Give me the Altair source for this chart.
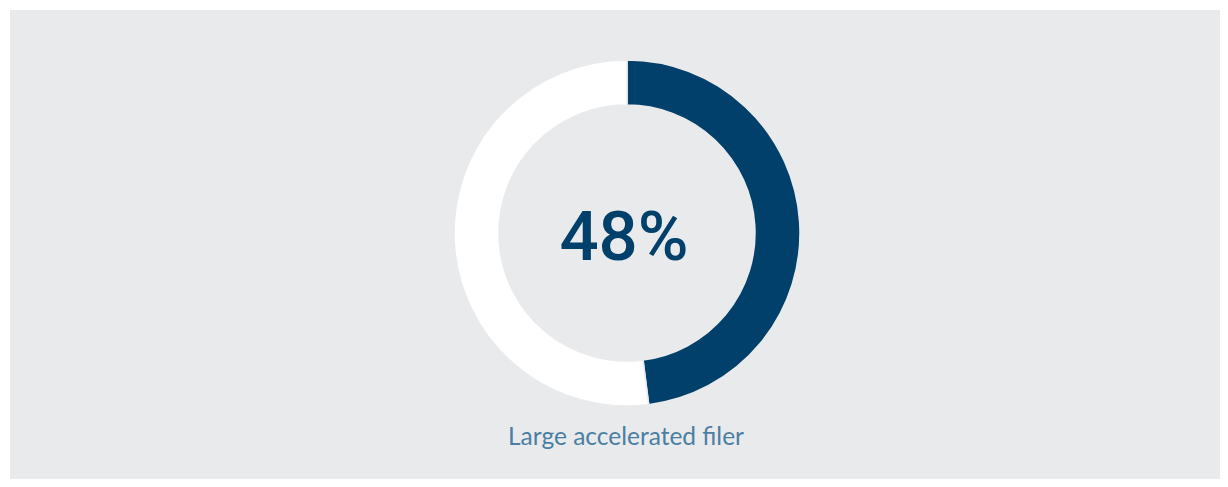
import altair as alt
import pandas as pd

categories = ["Large accelerated filer", "Other"]
shares = [48, 52]
colors = ["#00406b", "#ffffff"]
headline = "48%"
label = "Large accelerated filer"

df = pd.DataFrame({"cat": categories, "share": shares, "order": [0, 1]})

BG = "#e9eaec"
CX, CY = 617, 223

donut = alt.Chart(df).mark_arc(
    outerRadius=173, innerRadius=128, stroke=BG, strokeWidth=1.5
).encode(
    theta=alt.Theta("share:Q", stack=True),
    order=alt.Order("order:Q"),
    color=alt.Color("cat:N", scale=alt.Scale(domain=categories, range=colors), legend=None),
    x=alt.value(CX),
    y=alt.value(CY),
)

big = alt.Chart(pd.DataFrame({"t": [headline]})).mark_text(
    font="Roboto", fontWeight=500, fontSize=69,
    color="#00406b", align="center", baseline="alphabetic"
).encode(text="t:N", x=alt.value(614), y=alt.value(250))

lab = alt.Chart(pd.DataFrame({"t": [label]})).mark_text(
    font="Lato", fontSize=24.5, color="#4a7fa3", align="center", baseline="alphabetic"
).encode(text="t:N", x=alt.value(616), y=alt.value(435))

chart = alt.layer(donut, big, lab).properties(
    width=1210, height=469,
    padding={"left": 2, "top": 2, "right": 0, "bottom": 0},
    autosize=alt.AutoSizeParams(type="none"),
    background="#ffffff",
).configure_view(fill=BG, stroke=None)

chart.save("out.html", embed_options={"renderer": "svg", "actions": False})
